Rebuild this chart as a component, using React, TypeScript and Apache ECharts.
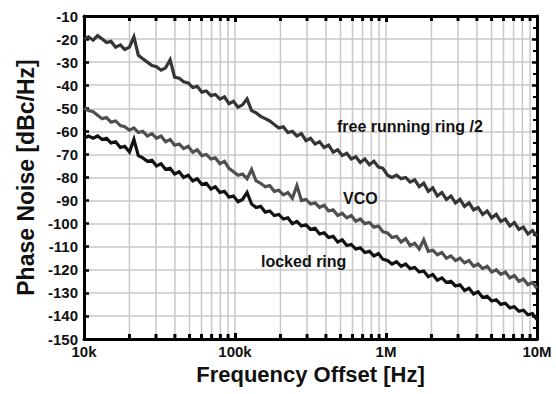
import React, { useEffect, useRef } from "react";
import * as echarts from "echarts";

// Frequency offsets [Hz] (shared by all traces)
const freqs = [
  10000, 10700, 11500, 12300, 13200, 14100, 15100, 16200, 17400, 18600,
  20000, 21400, 22900, 24500, 26300, 28200, 30200, 32400, 34700, 37200,
  39800, 42700, 45700, 49000, 52500, 56200, 60300, 64600, 69200, 74100,
  79400, 85100, 91200, 97700, 104700, 112200, 120200, 128800, 138000, 147900,
  158500, 169800, 182000, 195000, 208900, 223900, 239900, 257000, 275400, 295100,
  316200, 338800, 363100, 389000, 416900, 446700, 478600, 512900, 549500, 588800,
  631000, 676100, 724400, 776200, 831800, 891300, 955000, 1023000, 1096000, 1175000,
  1259000, 1349000, 1445000, 1549000, 1660000, 1778000, 1905000, 2042000, 2188000, 2344000,
  2512000, 2692000, 2884000, 3090000, 3311000, 3548000, 3802000, 4074000, 4365000, 4677000,
  5012000, 5370000, 5754000, 6166000, 6607000, 7079000, 7586000, 8128000, 8710000, 9333000,
  10000000,
];

// Phase noise [dBc/Hz]
const freeRunning = [
  -20, -19, -20.5, -18.5, -20, -21.5, -21, -23.5, -22.5, -24.5,
  -23.5, -19, -27, -28.5, -30, -31.5, -32, -33.5, -32.5, -29,
  -36.5, -37, -38.5, -39, -41, -40.5, -43, -42.5, -44.5, -44,
  -46, -45, -48, -47, -49.5, -48.5, -46, -51, -52, -53.5,
  -54.5, -55.5, -57, -58.5, -58, -60.5, -60, -62, -61, -64,
  -63, -65.5, -64.5, -67, -66, -69, -68, -70.5, -69.5, -72,
  -71, -73.5, -72, -74.5, -73, -75.5, -76, -79, -80, -79,
  -80.5, -80, -82, -81, -84, -82.5, -86, -84.5, -88, -86.5,
  -89.5, -88, -91, -89.5, -92.5, -91, -94, -93, -96, -94.5,
  -97.5, -96, -99, -98, -101, -99.5, -102.5, -101.5, -104.5, -103,
  -105.5,
];

const vco = [
  -50, -51, -51.5, -53, -54.5, -54, -56, -55.5, -57.5, -58,
  -59.5, -58.5, -60.5, -60, -62, -61, -63, -62, -64.5, -63.5,
  -66, -65.5, -67.5, -66.5, -69, -68, -70.5, -70, -72, -71.5,
  -74, -73, -76, -77.5, -79, -78.5, -80.5, -76.5, -81.5, -82.5,
  -84, -83.5, -86, -85.5, -87.5, -86.5, -89, -83.5, -90, -89.5,
  -91.5, -91, -93, -92, -94.5, -94, -96.5, -95.5, -97.5, -96.5,
  -99, -98, -100, -99.5, -101.5, -101, -103.5, -104, -106, -105.5,
  -108, -106.5, -109.5, -108.5, -111, -107, -112, -111.5, -113.5, -112.5,
  -115, -114, -116, -115, -117, -116, -118.5, -117.5, -119.5, -118.5,
  -121, -120, -122, -121, -123.5, -122.5, -125, -124, -126.5, -125.5,
  -128,
];

const lockedRing = [
  -63, -62, -63, -62, -63.5, -63, -65, -64.5, -67, -66.5,
  -69, -63.5, -70.5, -71.5, -73, -72.5, -75, -74, -76.5, -76,
  -78.5, -77.5, -80, -79, -81.5, -80.5, -83, -82.5, -85, -84,
  -86.5, -86, -88.5, -88, -90.5, -89.5, -86.5, -91.5, -93, -92.5,
  -95, -94.5, -96.5, -96, -98, -97.5, -100, -99, -101, -100.5,
  -102.5, -102, -104.5, -104, -106, -105.5, -108, -107, -109.5, -109,
  -111, -110.5, -112.5, -112, -114, -113, -115.5, -116, -117.5, -116.5,
  -118.5, -117.5, -119.5, -119, -121, -120.5, -123, -122, -124.5, -123.5,
  -125.5, -125, -127, -126.5, -129, -128, -130.5, -129.5, -132, -131.5,
  -133.5, -133, -135, -134.5, -136.5, -136, -138, -137.5, -139.5, -139,
  -141.5,
];

// Log-axis minor grid positions
const minorFreqs = [
  20000, 30000, 40000, 50000, 60000, 70000, 80000, 90000,
  200000, 300000, 400000, 500000, 600000, 700000, 800000, 900000,
  2000000, 3000000, 4000000, 5000000, 6000000, 7000000, 8000000, 9000000,
];

const xTickValues = [10000, 100000, 1000000, 10000000];
const xTickLabels = ["10k", "100k", "1M", "10M"];

const yMin = -150;
const yMax = -10;

const FONT = '"Liberation Sans", Arial, Helvetica, sans-serif';

export default function App() {
  const ref = useRef<HTMLDivElement>(null);

  useEffect(() => {
    if (!ref.current) return;
    const chart = echarts.init(ref.current, null, { renderer: "svg" });

    const labelFmt = (v: number) => {
      const idx = xTickValues.findIndex((t) => Math.abs(t - v) / t < 1e-6);
      return idx >= 0 ? xTickLabels[idx] : "";
    };

    const mkLine = (name: string, vals: number[], color: string) => ({
      name,
      type: "line",
      data: freqs.map((f, i) => [f, vals[i]]),
      showSymbol: false,
      symbol: "none",
      z: 3,
      lineStyle: { color, width: 3.2, join: "miter", miterLimit: 4 },
      itemStyle: { color },
      silent: true,
    });

    chart.setOption({
      animation: false,
      backgroundColor: "#ffffff",
      grid: { left: 84, right: 19, top: 16, bottom: 55, containLabel: false },
      xAxis: [
        {
          type: "log",
          logBase: 10,
          min: 10000,
          max: 10000000,
          position: "bottom",
          name: "Frequency Offset [Hz]",
          nameLocation: "middle",
          nameGap: 22,
          nameTextStyle: { fontFamily: FONT, fontWeight: "bold", fontSize: 22, color: "#111" },
          axisLine: { show: true, lineStyle: { color: "#000", width: 3 } },
          axisTick: { show: true, inside: true, length: 6, lineStyle: { color: "#000", width: 3 } },
          axisLabel: {
            fontFamily: FONT,
            fontWeight: "bold",
            fontSize: 15,
            color: "#111",
            margin: 5,
            formatter: labelFmt,
          },
          splitLine: { show: true, lineStyle: { color: "#c8c8c8", width: 1.5 } },
        },
        {
          type: "log",
          logBase: 10,
          min: 10000,
          max: 10000000,
          position: "top",
          axisLine: { show: true, lineStyle: { color: "#000", width: 3 } },
          axisTick: { show: true, inside: true, length: 6, lineStyle: { color: "#000", width: 3 } },
          axisLabel: { show: false },
          splitLine: { show: false },
        },
      ],
      yAxis: [
        {
          type: "value",
          min: yMin,
          max: yMax,
          interval: 10,
          position: "left",
          name: "Phase Noise [dBc/Hz]",
          nameLocation: "middle",
          nameGap: 47,
          nameTextStyle: { fontFamily: FONT, fontWeight: "bold", fontSize: 23, color: "#111" },
          axisLine: { show: true, lineStyle: { color: "#000", width: 3 } },
          axisTick: { show: true, inside: true, length: 5, lineStyle: { color: "#000", width: 2.5 } },
          axisLabel: { fontFamily: FONT, fontWeight: "bold", fontSize: 15, color: "#111", margin: 6 },
          splitLine: { show: true, lineStyle: { color: "#c8c8c8", width: 1.5 } },
        },
        {
          type: "value",
          min: yMin,
          max: yMax,
          interval: 10,
          position: "right",
          axisLine: { show: true, lineStyle: { color: "#000", width: 3 } },
          axisTick: { show: true, inside: true, length: 5, lineStyle: { color: "#000", width: 2.5 } },
          minorTick: { show: true, splitNumber: 2, length: 4, lineStyle: { color: "#000", width: 2 } },
          axisLabel: { show: false },
          splitLine: { show: false },
        },
      ],
      series: [
        {
          name: "minor grid",
          type: "custom",
          z: 1,
          silent: true,
          xAxisIndex: 0,
          yAxisIndex: 0,
          data: minorFreqs.map((f) => [f, -80]),
          renderItem: (params: any, api: any) => {
            const f = api.value(0);
            const top = api.coord([f, yMax]);
            const bot = api.coord([f, yMin]);
            return {
              type: "group",
              children: [
                {
                  type: "line",
                  shape: { x1: top[0], y1: top[1], x2: bot[0], y2: bot[1] },
                  style: { stroke: "#c8c8c8", lineWidth: 1.5 },
                },
                {
                  type: "line",
                  shape: { x1: bot[0], y1: bot[1], x2: bot[0], y2: bot[1] - 5 },
                  style: { stroke: "#000", lineWidth: 3 },
                },
                {
                  type: "line",
                  shape: { x1: top[0], y1: top[1], x2: top[0], y2: top[1] + 5 },
                  style: { stroke: "#000", lineWidth: 3 },
                },
              ],
            };
          },
        },
        mkLine("free running ring /2", freeRunning, "#353535"),
        mkLine("VCO", vco, "#505050"),
        mkLine("locked ring", lockedRing, "#121212"),
      ],
      graphic: [
        {
          type: "text",
          x: 337,
          y: 126,
          z: 10,
          style: {
            text: "free running ring /2",
            fontFamily: FONT,
            fontWeight: "bold",
            fontSize: 16,
            fill: "#111",
            verticalAlign: "middle",
            align: "left",
          },
        },
        {
          type: "text",
          x: 343,
          y: 198,
          z: 10,
          style: {
            text: "VCO",
            fontFamily: FONT,
            fontWeight: "bold",
            fontSize: 16,
            fill: "#111",
            verticalAlign: "middle",
            align: "left",
          },
        },
        {
          type: "text",
          x: 261,
          y: 261,
          z: 10,
          style: {
            text: "locked ring",
            fontFamily: FONT,
            fontWeight: "bold",
            fontSize: 16,
            fill: "#111",
            verticalAlign: "middle",
            align: "left",
          },
        },
      ],
    });

    return () => chart.dispose();
  }, []);

  return (
    <div
      ref={ref}
      style={{ position: "fixed", left: 0, top: 0, width: 556, height: 394, background: "#fff" }}
    />
  );
}
